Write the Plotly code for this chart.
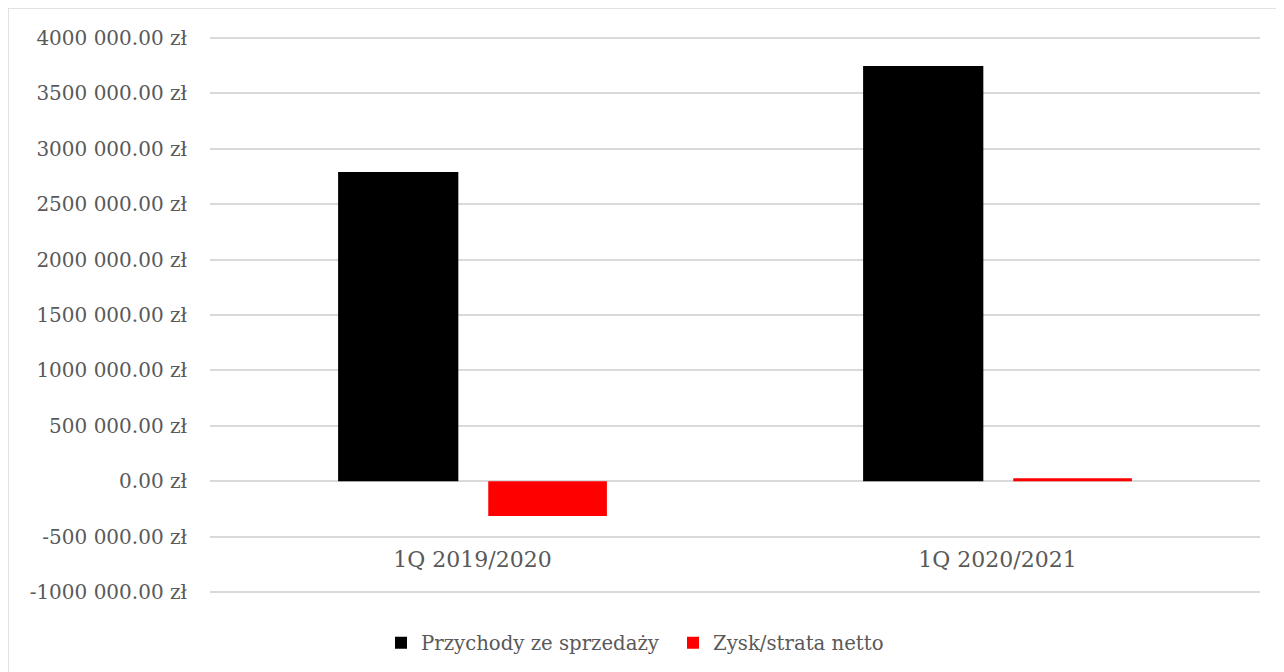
import plotly.graph_objects as go

categories = ["1Q 2019/2020", "1Q 2020/2021"]
przychody = [2790000, 3748000]
zysk = [-315000, 25000]
series_names = ["Przychody ze sprzedaży", "Zysk/strata netto"]
tick_vals = [-1000000, -500000, 0, 500000, 1000000, 1500000, 2000000, 2500000, 3000000, 3500000, 4000000]
tick_text = ["-1000 000.00 zł", "-500 000.00 zł", "0.00 zł", "500 000.00 zł", "1000 000.00 zł",
             "1500 000.00 zł", "2000 000.00 zł", "2500 000.00 zł", "3000 000.00 zł",
             "3500 000.00 zł", "4000 000.00 zł"]

FONT = "DejaVu Serif"
TXT = "#595959"

# page body has an 8px margin; figure coordinates below are screen - 8
L, T = 202, 29
PW, PH = 1050, 556
Y_RANGE = [-1010000, 4010000]

fig = go.Figure()
fig.add_trace(go.Bar(x=categories, y=przychody, name=series_names[0],
                     marker=dict(color="#000000", line=dict(width=0)),
                     width=0.229, offset=-0.256))
fig.add_trace(go.Bar(x=categories, y=zysk, name=series_names[1],
                     marker=dict(color="#ff0000", line=dict(width=0)),
                     width=0.226, offset=0.030))

fig.update_layout(
    width=1284, height=672,
    margin=dict(l=L, r=1284 - L - PW, t=T, b=672 - T - PH, autoexpand=False),
    paper_bgcolor="white", plot_bgcolor="white",
    font=dict(family=FONT, size=20, color=TXT),
    showlegend=True,
    legend=dict(orientation="h", xref="container", yref="container",
                x=373 / 1284, xanchor="left", y=1 - 635 / 672, yanchor="middle",
                font=dict(family=FONT, size=19.7, color=TXT),
                itemwidth=30, entrywidth=247, traceorder="normal"),
    xaxis=dict(showgrid=False, showline=False, zeroline=False, ticks="",
               anchor="free", position=(-500000 - Y_RANGE[0]) / (Y_RANGE[1] - Y_RANGE[0]),
               ticklabelstandoff=7, tickfont=dict(family=FONT, size=22, color=TXT)),
    yaxis=dict(range=Y_RANGE, tickvals=tick_vals, ticktext=tick_text,
               showgrid=True, gridcolor="#d9d9d9", gridwidth=1.5,
               zeroline=True, zerolinecolor="#d9d9d9", zerolinewidth=1.5,
               showline=False, ticks="", ticklabelstandoff=22,
               tickfont=dict(family=FONT, size=20, color=TXT)),
    shapes=[dict(type="rect", xref="paper", yref="paper",
                 x0=(0 - L) / PW, x1=1.2, y0=-0.3, y1=(PH + T) / PH,
                 line=dict(color="#d9d9d9", width=1.5), fillcolor="rgba(0,0,0,0)",
                 layer="below")],
)

fig.write_html("out.html")
